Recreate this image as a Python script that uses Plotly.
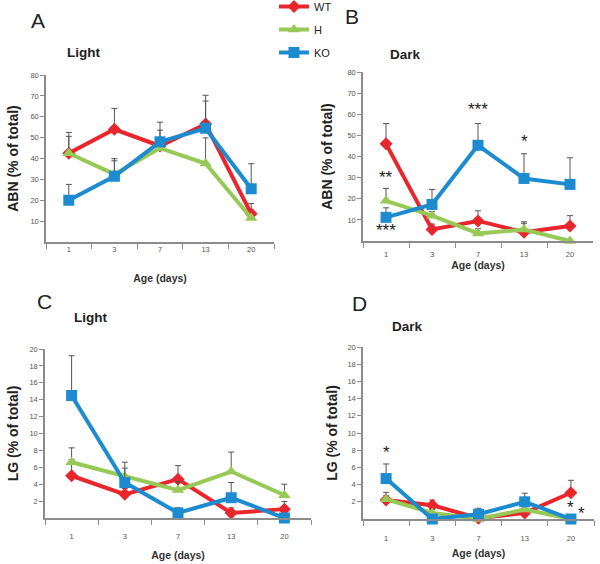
import plotly.graph_objects as go

# ---------------- data ----------------
ages = ["1", "3", "7", "13", "20"]
series_names = ["WT", "H", "KO"]

# Panel A: ABN, Light
abn_light_wt = [42.5, 54.0, 46.0, 56.5, 13.5]
abn_light_wt_err = [10.0, 10.0, 7.6, 13.8, 4.9]
abn_light_h = [42.5, 32.5, 45.0, 37.6, 11.5]
abn_light_h_err = [8.1, 7.4, 3.0, 12.3, 0.0]
abn_light_ko = [20.0, 31.5, 48.0, 54.5, 25.5]
abn_light_ko_err = [7.6, 7.4, 9.4, 13.0, 12.0]

# Panel B: ABN, Dark
abn_dark_wt = [46.0, 5.5, 9.5, 4.2, 7.1]
abn_dark_wt_err = [9.6, 2.5, 4.8, 4.9, 4.9]
abn_dark_h = [19.0, 12.0, 3.6, 5.4, 0.0]
abn_dark_h_err = [5.9, 2.0, 2.2, 3.0, 0.0]
abn_dark_ko = [11.2, 17.3, 45.3, 29.6, 26.8]
abn_dark_ko_err = [4.5, 7.1, 10.3, 11.7, 12.6]

# Panel C: LG, Light
lg_light_wt = [5.0, 2.8, 4.6, 0.6, 1.05]
lg_light_wt_err = [1.9, 0.7, 1.6, 0.6, 0.9]
lg_light_h = [6.6, 4.9, 3.3, 5.5, 2.7]
lg_light_h_err = [1.7, 1.7, 1.0, 2.3, 1.3]
lg_light_ko = [14.5, 4.2, 0.6, 2.4, 0.0]
lg_light_ko_err = [4.7, 1.7, 0.6, 1.8, 0.0]

# Panel D: LG, Dark
lg_dark_wt = [2.2, 1.6, 0.1, 0.7, 3.05]
lg_dark_wt_err = [0.5, 0.6, 0.0, 0.5, 1.45]
lg_dark_h = [2.3, 0.7, 0.0, 1.1, 0.0]
lg_dark_h_err = [0.8, 0.4, 0.0, 0.4, 0.0]
lg_dark_ko = [4.7, 0.0, 0.55, 2.0, 0.0]
lg_dark_ko_err = [1.7, 0.0, 0.7, 1.0, 0.0]

abn_ticks = [10, 20, 30, 40, 50, 60, 70, 80]
lg_ticks = [2, 4, 6, 8, 10, 12, 14, 16, 18, 20]

# significance marks: (panel, category index, y value, text)
sig_marks = [
    ("B", 0, 30.0, "**"),
    ("B", 0, 5.2, "***"),
    ("B", 2, 62.1, "***"),
    ("B", 3, 47.0, "*"),
    ("C", 0, 20.7, "**"),
    ("D", 0, 7.75, "*"),
    ("D", 4, 1.3, "*"),
    ("D", 4.24, 0.66, "*"),
]

# ---------------- styling ----------------
W, H = 600, 564
colors = {"WT": "#E8262B", "H": "#97C957", "KO": "#1C8BD0"}
symbols = {"WT": "diamond", "H": "triangle-up", "KO": "square"}
msizes = {"WT": 10, "H": 11, "KO": 11}
AXC = "#8c8c8c"
FONT = "Liberation Sans, Arial, sans-serif"


def px_x(p):
    return p / W


def px_y(p):
    return 1 - p / H


panels = {
    "A": dict(ax="", data=[(abn_light_wt, abn_light_wt_err), (abn_light_h, abn_light_h_err),
                           (abn_light_ko, abn_light_ko_err)],
              xdom=[px_x(46), px_x(274)], ydom=[px_y(242), px_y(75)], yr=[0, 80], ticks=abn_ticks,
              ytitle="ABN (% of total)", sub="Light", letter_pos=(38, 20), sub_pos=(83, 52),
              ystand=9, xstand=22, xlabstand=-1),
    "B": dict(ax="2", data=[(abn_dark_wt, abn_dark_wt_err), (abn_dark_h, abn_dark_h_err),
                            (abn_dark_ko, abn_dark_ko_err)],
              xdom=[px_x(363), px_x(593)], ydom=[px_y(241), px_y(72)], yr=[0, 80], ticks=abn_ticks,
              ytitle="ABN (% of total)", sub="Dark", letter_pos=(352, 16), sub_pos=(405, 55),
              ystand=12, xstand=1, xlabstand=5),
    "C": dict(ax="3", data=[(lg_light_wt, lg_light_wt_err), (lg_light_h, lg_light_h_err),
                            (lg_light_ko, lg_light_ko_err)],
              xdom=[px_x(45), px_x(311)], ydom=[px_y(518), px_y(349)], yr=[0, 20], ticks=lg_ticks,
              ytitle="LG (% of total)", sub="Light", letter_pos=(44, 301), sub_pos=(90, 317),
              ystand=8, xstand=12, xlabstand=10),
    "D": dict(ax="4", data=[(lg_dark_wt, lg_dark_wt_err), (lg_dark_h, lg_dark_h_err),
                            (lg_dark_ko, lg_dark_ko_err)],
              xdom=[px_x(363), px_x(594)], ydom=[px_y(519), px_y(347)], yr=[0, 20], ticks=lg_ticks,
              ytitle="LG (% of total)", sub="Dark", letter_pos=(359, 303), sub_pos=(407, 326),
              ystand=7, xstand=8, xlabstand=11),
}

fig = go.Figure()
annotations = []
layout_axes = {}

for pname, p in panels.items():
    ax = p["ax"]
    for sname, (vals, errs) in zip(series_names, p["data"]):
        fig.add_trace(go.Scatter(
            x=ages, y=vals, name=sname, legendgroup=sname,
            showlegend=(pname == "A"),
            mode="lines+markers",
            line=dict(color=colors[sname], width=4),
            marker=dict(symbol=symbols[sname], size=msizes[sname], color=colors[sname]),
            error_y=dict(type="data", symmetric=False, array=errs, arrayminus=[0] * len(errs),
                         color="#555555", thickness=1, width=3),
            cliponaxis=False,
            xaxis="x" + ax, yaxis="y" + ax,
        ))
    layout_axes["xaxis" + ax] = dict(
        domain=p["xdom"], anchor="y" + ax, type="category",
        categoryorder="array", categoryarray=ages, range=[-0.5, 4.5],
        tickson="boundaries", ticks="outside", ticklen=5, tickcolor=AXC, tickwidth=1.2,
        showline=True, linecolor=AXC, linewidth=1.5, showgrid=False, zeroline=False,
        tickfont=dict(family=FONT, size=7.5, color="#555555"),
        ticklabelstandoff=p["xlabstand"],
        title=dict(text="<b>Age (days)</b>", standoff=p["xstand"],
                   font=dict(family=FONT, size=10.5, color="#333333")),
        fixedrange=True, automargin=False,
    )
    layout_axes["yaxis" + ax] = dict(
        domain=p["ydom"], anchor="x" + ax, range=p["yr"],
        tickmode="array", tickvals=p["ticks"], ticks="outside", ticklen=4,
        tickcolor=AXC, tickwidth=1.2,
        showline=True, linecolor=AXC, linewidth=1.5, showgrid=False, zeroline=False,
        tickfont=dict(family=FONT, size=7.5, color="#555555"),
        title=dict(text="<b>" + p["ytitle"] + "</b>", standoff=p["ystand"],
                   font=dict(family=FONT, size=14, color="#222222")),
        fixedrange=True, automargin=False,
    )
    lx, ly = p["letter_pos"]
    annotations.append(dict(text=pname, x=px_x(lx), y=px_y(ly), xref="paper", yref="paper",
                            showarrow=False, xanchor="center", yanchor="middle",
                            font=dict(family=FONT, size=21, color="#222222")))
    sx, sy = p["sub_pos"]
    annotations.append(dict(text="<b>" + p["sub"] + "</b>", x=px_x(sx), y=px_y(sy),
                            xref="paper", yref="paper", showarrow=False,
                            xanchor="center", yanchor="middle",
                            font=dict(family=FONT, size=13.5, color="#222222")))

for pname, xi, yv, txt in sig_marks:
    ax = panels[pname]["ax"]
    annotations.append(dict(text=txt, x=xi, y=yv, xref="x" + ax, yref="y" + ax,
                            showarrow=False, xanchor="center", yanchor="middle", yshift=0,
                            font=dict(family=FONT, size=17, color="#222222")))

fig.update_layout(
    width=W, height=H,
    margin=dict(l=0, r=0, t=0, b=0, autoexpand=False),
    paper_bgcolor="white", plot_bgcolor="white",
    showlegend=True,
    legend=dict(x=px_x(274), y=1 + 8 / H, xanchor="left", yanchor="top",
                traceorder="grouped", tracegroupgap=4, itemwidth=30,
                font=dict(family=FONT, size=11, color="#222222"),
                bgcolor="rgba(0,0,0,0)"),
    annotations=annotations,
)
fig.update_layout(**layout_axes)

fig.write_html("out.html", config={"displayModeBar": False},
               post_script="document.body.style.margin='0';")
